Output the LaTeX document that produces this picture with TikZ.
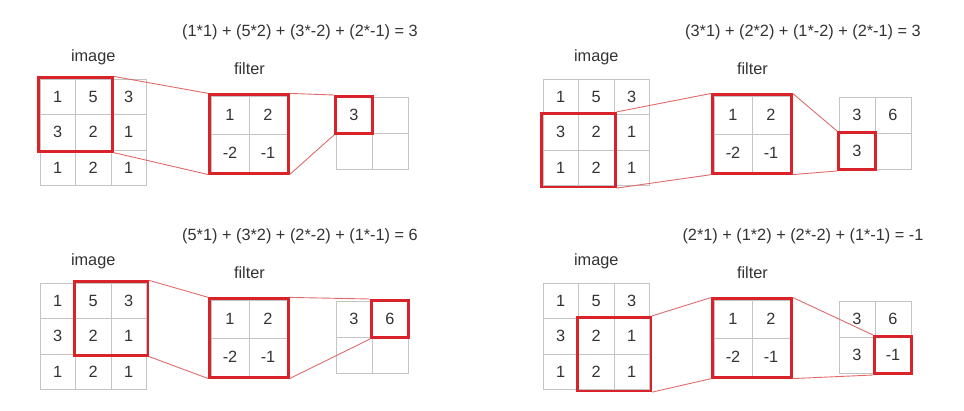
\documentclass[tikz,border=0pt]{standalone}
\usepackage{fontspec}
\setmainfont{Liberation Sans}
\usepackage{xcolor}
\usepackage{tikz}
\usetikzlibrary{positioning,fit}

\definecolor{winred}{HTML}{D8232A}
\definecolor{linkred}{HTML}{E06A6A}
\definecolor{gridgray}{HTML}{C4C4C4}
\definecolor{inkgray}{HTML}{333333}

% one convolution step: name, origin, formula, window corners, hit cell, output rows
\newcommand{\convstep}[7]{%
	\begin{scope}[shift={#2}]
		\node[lbl] (#1-form) at (260,-47) {#3};
		\foreach \r/\row in {1/{1,5,3},2/{3,2,1},3/{1,2,1}}
			\foreach \v [count=\c] in \row
				\node[icell] (#1-i\r\c) at ({35.5*\c-17.75},{35.5*\r-17.75}) {\v};
		\foreach \r/\row in {1/{1,2},2/{-2,-1}}
			\foreach \v [count=\c] in \row
				\node[fcell] (#1-f\r\c) at ({171+38*\c-19},{17+38*\r-19}) {\v};
		\foreach \r/\row in {#7}
			\foreach \v [count=\c] in \row
				\node[ocell] (#1-o\r\c) at ({296+36*\c-18},{18+36*\r-18}) {\v};
		\node[lbl, above=14pt of #1-i12] (#1-imlbl) {image};
		\node[lbl, above=21pt of #1-f11.north east] (#1-fllbl) {filter};
		\node[win, fit=(#1-i#4)(#1-i#5)] (#1-win) {};
		\node[win, fit=(#1-f11)(#1-f22)] (#1-filt) {};
		\node[win, fit=(#1-o#6), inner sep=0.3pt] (#1-hit) {};
		\draw[link] (#1-win.north east) -- (#1-filt.north west);
		\draw[link] (#1-win.south east) -- (#1-filt.south west);
		\draw[link] (#1-filt.north east) -- (#1-hit.north west);
		\draw[link] (#1-filt.south east) -- (#1-hit.south west);
	\end{scope}}

\begin{document}
\begin{tikzpicture}[
		x=1pt, y=-1pt,
		every node/.style={text=inkgray, font=\fontsize{16.3}{19}\selectfont},
		lbl/.style={inner sep=0pt},
		icell/.style={draw=gridgray, line width=0.8pt, minimum size=35.5pt, inner sep=0pt},
		fcell/.style={icell, minimum size=38pt},
		ocell/.style={icell, minimum size=36pt},
		win/.style={draw=winred, line width=2.6pt, inner sep=0.9pt},
		link/.style={draw=linkred, line width=0.9pt}
		]
		
		\useasboundingbox (0,0) rectangle (964,410);
		
		\convstep{sa}{(40,79)}{(1*1) + (5*2) + (3*-2) + (2*-1) = 3}{11}{22}{11}{1/{3,{}},2/{{},{}}}
		\convstep{sb}{(543,79)}{(3*1) + (2*2) + (1*-2) + (2*-1) = 3}{21}{32}{21}{1/{3,6},2/{3,{}}}
		\convstep{sc}{(40,283)}{(5*1) + (3*2) + (2*-2) + (1*-1) = 6}{12}{23}{12}{1/{3,6},2/{{},{}}}
		\convstep{sd}{(543,283)}{(2*1) + (1*2) + (2*-2) + (1*-1) = -1}{22}{33}{22}{1/{3,6},2/{3,-1}}
		
	\end{tikzpicture}
\end{document}
